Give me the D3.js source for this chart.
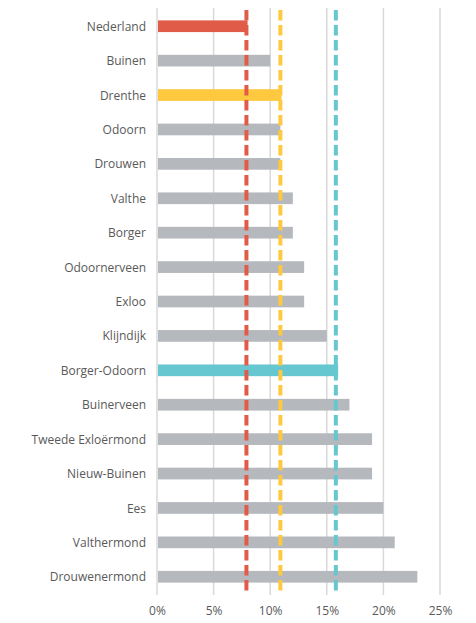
<!DOCTYPE html>
<html>
<head>
<meta charset="utf-8">
<script src="https://cdn.jsdelivr.net/npm/d3@7"></script>
<style>
  body { margin: 0; background: #fff; }
  text { font-family: "Open Sans", "Noto Sans", sans-serif; fill: #595959; }
</style>
</head>
<body>
<svg id="mychart" width="476" height="623"></svg>
<script>
// places, top to bottom
const places = ["Nederland", "Buinen", "Drenthe", "Odoorn", "Drouwen", "Valthe", "Borger",
  "Odoornerveen", "Exloo", "Klijndijk", "Borger-Odoorn", "Buinerveen", "Tweede Exloërmond",
  "Nieuw-Buinen", "Ees", "Valthermond", "Drouwenermond"];
const values = [8, 10, 11, 10.9, 10.9, 12, 12, 13, 13, 15, 16, 17, 19, 19, 20, 21, 23];
// reference lines (dashed): Nederland, Drenthe, Borger-Odoorn
const refNames = ["Nederland", "Drenthe", "Borger-Odoorn"];
const refValues = [7.9, 10.9, 15.8];
const ticks = [0, 5, 10, 15, 20, 25];

const colorOf = { "Nederland": "#e05b48", "Drenthe": "#fec93f", "Borger-Odoorn": "#66c7d0" };
const barGray = "#b5b8bc";

const margin = { top: 8, right: 36, bottom: 28, left: 157 },
  width = 476, height = 623,
  innerWidth = width - margin.left - margin.right,
  innerHeight = height - margin.top - margin.bottom;

const svg = d3.select("#mychart");
const g = svg.append("g").attr("transform", `translate(${margin.left},${margin.top})`);

const x = d3.scaleLinear().domain([0, 25]).range([0, innerWidth]);
const y = d3.scaleBand().domain(places).range([0, innerHeight]).paddingInner(0.66).paddingOuter(0.36);

// gridlines
g.selectAll(".grid")
  .data(ticks)
  .join("line")
  .attr("class", "grid")
  .attr("x1", d => x(d)).attr("x2", d => x(d))
  .attr("y1", 0).attr("y2", innerHeight)
  .attr("stroke", "#d9d9d9")
  .attr("stroke-width", 1.5);

// bars
g.selectAll(".bar")
  .data(places)
  .join("rect")
  .attr("class", "bar")
  .attr("x", x(0) + 1)
  .attr("y", d => y(d))
  .attr("width", (d, i) => x(values[i]) - x(0) - 1)
  .attr("height", y.bandwidth())
  .attr("fill", d => colorOf[d] || barGray);

// dashed reference lines
g.selectAll(".ref")
  .data(refNames)
  .join("line")
  .attr("class", "ref")
  .attr("x1", (d, i) => x(refValues[i])).attr("x2", (d, i) => x(refValues[i]))
  .attr("y1", 2).attr("y2", innerHeight)
  .attr("stroke", d => colorOf[d])
  .attr("stroke-width", 4)
  .attr("stroke-dasharray", "10.5,4.5");

// category labels
g.selectAll(".label")
  .data(places)
  .join("text")
  .attr("class", "label")
  .attr("x", -11)
  .attr("y", d => y(d) + y.bandwidth() / 2)
  .attr("dy", "0.38em")
  .attr("text-anchor", "end")
  .attr("font-size", 12)
  .text(d => d);

// x axis
const xAxis = g.append("g")
  .attr("transform", `translate(0,${innerHeight})`)
  .call(d3.axisBottom(x).tickValues(ticks).tickFormat(d => d + "%").tickSize(0).tickPadding(11));
xAxis.select(".domain").remove();
xAxis.selectAll("text").attr("font-size", 12).style("font-family", "'Open Sans', sans-serif").attr("fill", "#595959");
</script>
</body>
</html>
